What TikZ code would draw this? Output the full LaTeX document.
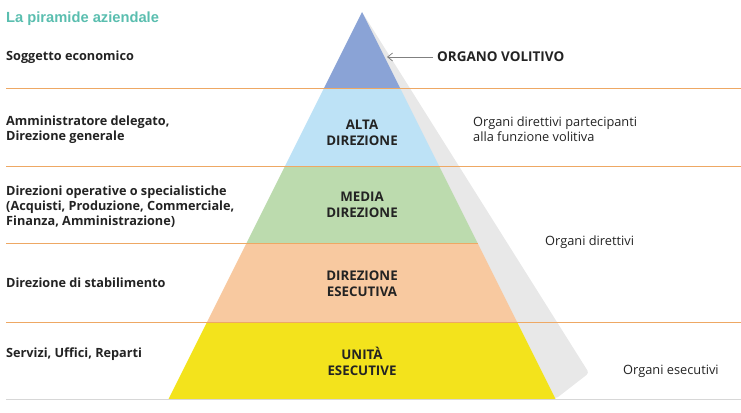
\documentclass[tikz,border=0pt]{standalone}
\usepackage{fontspec}
\setmainfont{Open Sans}
\newfontfamily\titlefont{Liberation Sans}
\usetikzlibrary{arrows.meta}
\definecolor{cTop}{RGB}{138,163,214}
\definecolor{cAlta}{RGB}{189,226,246}
\definecolor{cMedia}{RGB}{188,219,174}
\definecolor{cEsec}{RGB}{248,201,160}
\definecolor{cUnit}{RGB}{243,227,28}
\definecolor{cShadow}{RGB}{232,232,232}
\definecolor{cLine}{RGB}{238,168,100}
\definecolor{cBase}{RGB}{215,215,215}
\definecolor{cTitle}{RGB}{90,190,175}
\definecolor{cText}{RGB}{35,35,35}
\tikzset{
  sep/.style={draw=cLine, line width=0.9pt},
  lefttxt/.style={anchor=west, inner sep=0pt, font=\fontsize{12.7}{15}\selectfont\bfseries, text=cText, align=left},
  midtxt/.style={anchor=center, inner sep=0pt, font=\fontsize{13.3}{16}\selectfont\bfseries, text=cText, align=center},
  righttxt/.style={anchor=west, inner sep=0pt, font=\fontsize{12.8}{15}\selectfont, text=cText, align=left},
}
\begin{document}
\begin{tikzpicture}[x=1pt,y=-1pt]
\useasboundingbox (0,0) rectangle (741,412);
% shadow
\fill[cShadow, rounded corners=3pt] (362,12) -- (589,373) -- (555.5,399) -- (362,200) -- cycle;
% bands
\fill[cTop] (362,12) -- (400,88) -- (324,88) -- cycle;
\fill[cAlta] (324,88) -- (400,88) -- (439,166) -- (285,166) -- cycle;
\fill[cMedia] (285,166) -- (439,166) -- (477.5,243) -- (246.5,243) -- cycle;
\fill[cEsec] (246.5,243) -- (477.5,243) -- (517,322) -- (207,322) -- cycle;
\fill[cUnit] (207,322) -- (517,322) -- (555.5,399) -- (168.5,399) -- cycle;
% separators
\draw[sep] (6,88) -- (741,88);
\draw[sep] (6,166) -- (741,166);
\draw[sep] (6,243) -- (477.5,243);
\draw[sep] (6,322) -- (741,322);
\draw[draw=cBase, line width=1pt] (6,399.5) -- (741,399.5);
% title
\node[anchor=west, inner sep=0pt, font=\titlefont\fontsize{14.7}{16}\selectfont\bfseries, text=cTitle] (title) at (6,19) {La piramide aziendale};
% left texts
\node[lefttxt] (l1) at (6,57) {Soggetto economico};
\node[lefttxt] (l2) at (6,129.5) {Amministratore delegato,\\Direzione generale};
\node[lefttxt] (l3) at (6,207) {Direzioni operative o specialistiche\\(Acquisti, Produzione, Commerciale,\\Finanza, Amministrazione)};
\node[lefttxt] (l4) at (6,283) {Direzione di stabilimento};
\node[lefttxt] (l5) at (6,354) {Servizi, Uffici, Reparti};
% middle labels
\node[midtxt] (m1) at (362,133) {ALTA\\DIREZIONE};
\node[midtxt] (m2) at (362,205) {MEDIA\\DIREZIONE};
\node[midtxt] (m3) at (362,283.5) {DIREZIONE\\ESECUTIVA};
\node[midtxt] (m4) at (362,361.5) {UNITÀ\\ESECUTIVE};
% right texts
\node[anchor=west, inner sep=0pt, font=\fontsize{13.5}{15}\selectfont\bfseries, text=cText] (ov) at (437,57) {ORGANO VOLITIVO};
\coordinate (tip) at (387,57);
\draw[gray, line width=0.7pt, -{Straight Barb[length=5pt,width=8pt]}] ([xshift=-4pt]ov.west) -- (tip);
\node[righttxt] (r1) at (473,129.5) {Organi direttivi partecipanti\\alla funzione volitiva};
\node[righttxt] (r2) at (545,242) {Organi direttivi};
\node[righttxt] (r3) at (623,371) {Organi esecutivi};
\end{tikzpicture}
\end{document}
